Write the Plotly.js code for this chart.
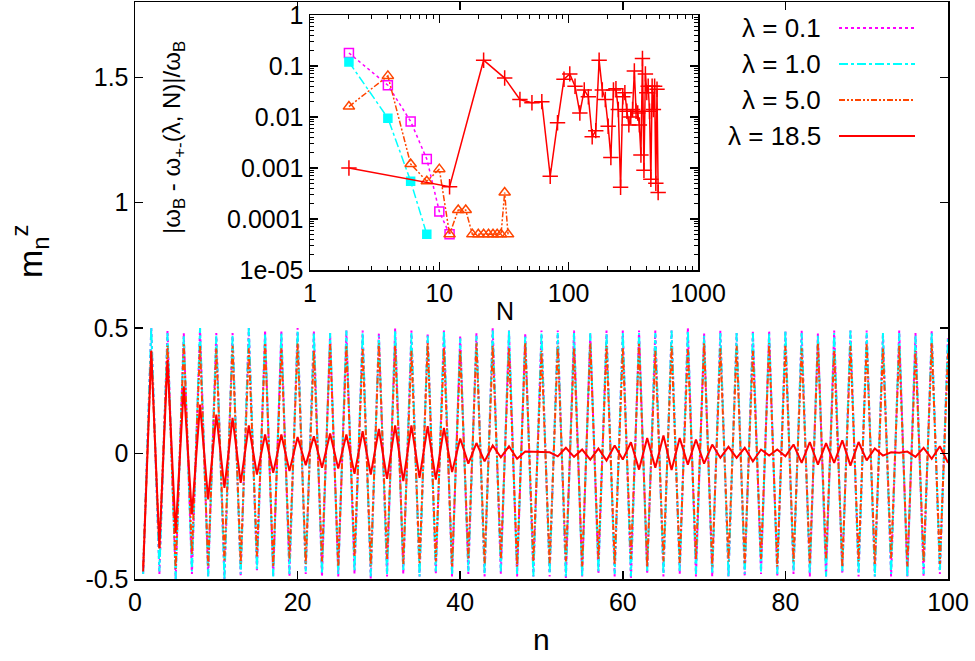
<!DOCTYPE html>
<html>
<head>
<meta charset="utf-8">
<script src="https://cdn.plot.ly/plotly-3.0.1.min.js"></script>
<style>html,body{margin:0;padding:0;background:#fff;}#chart{width:975px;height:661px;}</style>
</head>
<body>
<div id="chart"></div>
<script>
// ---- main panel: m_n^z versus site n ----
var siteN = [];
for (var i = 1; i <= 100; i++) siteN.push(i);

var mz_lam01 = [-0.48,0.50,-0.48,0.49,-0.50,0.48,-0.48,0.50,-0.49,0.48,
-0.50,0.48,-0.49,0.50,-0.47,0.49,-0.49,0.49,-0.49,0.50,
-0.48,0.49,-0.49,0.48,-0.49,0.49,-0.48,0.49,-0.50,0.48,
-0.49,0.50,-0.48,0.49,-0.49,0.48,-0.48,0.49,-0.49,0.47,
-0.48,0.48,-0.49,0.50,-0.48,0.49,-0.49,0.48,-0.49,0.49,
-0.49,0.49,-0.50,0.49,-0.49,0.48,-0.48,0.49,-0.49,0.49,
-0.50,0.49,-0.48,0.49,-0.49,0.49,-0.48,0.50,-0.49,0.48,
-0.49,0.49,-0.49,0.48,-0.49,0.49,-0.48,0.49,-0.49,0.49,
-0.48,0.49,-0.49,0.48,-0.49,0.49,-0.48,0.49,-0.49,0.49,
-0.49,0.48,-0.49,0.49,-0.49,0.48,-0.49,0.49,-0.48,0.47];

var mz_lam1 = [-0.48,0.50,-0.47,0.48,-0.50,0.47,-0.47,0.50,-0.49,0.47,
-0.50,0.47,-0.48,0.50,-0.46,0.48,-0.49,0.48,-0.48,0.49,
-0.47,0.48,-0.48,0.48,-0.48,0.49,-0.47,0.48,-0.49,0.47,
-0.48,0.49,-0.47,0.48,-0.49,0.47,-0.47,0.49,-0.48,0.46,
-0.47,0.47,-0.48,0.49,-0.47,0.49,-0.48,0.47,-0.49,0.48,
-0.48,0.48,-0.49,0.48,-0.49,0.48,-0.47,0.48,-0.48,0.48,
-0.49,0.48,-0.47,0.48,-0.48,0.49,-0.47,0.49,-0.48,0.47,
-0.48,0.48,-0.49,0.48,-0.48,0.48,-0.47,0.48,-0.48,0.49,
-0.47,0.48,-0.48,0.47,-0.49,0.48,-0.47,0.49,-0.48,0.48,
-0.49,0.48,-0.48,0.48,-0.49,0.47,-0.48,0.48,-0.47,0.46];

var mz_lam5 = [-0.45,0.41,-0.38,0.43,-0.46,0.44,-0.40,0.43,-0.45,0.42,
-0.43,0.43,-0.44,0.42,-0.41,0.44,-0.45,0.42,-0.42,0.44,
-0.44,0.41,-0.43,0.44,-0.45,0.43,-0.41,0.42,-0.45,0.44,
-0.42,0.43,-0.44,0.41,-0.44,0.44,-0.43,0.42,-0.45,0.41,
-0.42,0.44,-0.44,0.43,-0.42,0.42,-0.45,0.44,-0.43,0.41,
-0.44,0.43,-0.43,0.42,-0.45,0.44,-0.42,0.43,-0.44,0.42,
-0.42,0.44,-0.45,0.41,-0.43,0.43,-0.44,0.42,-0.42,0.44,
-0.45,0.42,-0.43,0.43,-0.44,0.41,-0.42,0.44,-0.45,0.43,
-0.43,0.42,-0.44,0.44,-0.42,0.41,-0.45,0.43,-0.43,0.44,
-0.44,0.42,-0.42,0.43,-0.45,0.41,-0.43,0.44,-0.44,0.40];

var mz_lam185 = [-0.47,0.41,-0.376,0.374,-0.316,0.268,-0.243,0.195,-0.183,0.155,
-0.137,0.142,-0.117,0.112,-0.084,0.076,-0.077,0.076,-0.070,0.066,
-0.046,0.069,-0.057,0.080,-0.060,0.076,-0.081,0.089,-0.084,0.098,
-0.101,0.112,-0.110,0.112,-0.097,0.109,-0.104,0.102,-0.074,0.060,
-0.040,0.042,-0.031,0.032,-0.015,0.029,-0.021,0.008,0.007,0.006,
0.005,-0.011,0.023,-0.013,0.016,-0.024,0.020,-0.028,0.032,-0.024,
0.045,-0.064,0.062,-0.057,0.072,-0.066,0.062,-0.044,0.056,-0.040,
0.036,-0.017,0.027,-0.017,0.023,-0.031,0.016,-0.008,0.016,-0.011,
0.036,-0.037,0.046,-0.044,0.042,-0.037,0.053,-0.048,0.046,-0.027,
0.020,-0.008,0.005,0.003,0.008,-0.013,0.023,-0.021,0.029,-0.037];

// ---- inset: relative error vs chain length N ----
var err_N_lam01 = [2,4,6,8,10,12];
var err_lam01 = [0.18,0.042,0.0082,0.0015,0.00014,0.00005];
var err_N_lam1 = [2,4,6,8];
var err_lam1 = [0.12,0.0095,0.00055,0.00005];
var err_N_lam5 = [2,4,6,8,10,12,14,16,18,20,22,24,26,28,30,32,34];
var err_lam5 = [0.016,0.064,0.0012,0.00055,0.00095,0.00005,0.00015,0.00015,0.00005,0.00005,0.00005,0.00005,0.00005,0.00005,0.00005,0.00033,0.00005];
var err_N_lam185 = [2,12,22,32,42,52,62,72,82,92,102,112,122,132,142,152,162,172,182,192,202,212,222,232,242,252,262,272,282,292,302,312,322,332,342,352,362,372,382,392,402,412,422,432,442,452,462,472,482,492];
var err_lam185 = [0.001,0.00043,0.13,0.058,0.022,0.019,0.02,0.00069,0.0077,0.055,
0.07,0.04,0.012,0.034,0.025,0.0041,0.0054,0.13,0.034,0.022,
0.0066,0.0016,0.034,0.036,0.014,0.00042,0.025,0.03,0.013,0.007,
0.01,0.014,0.08,0.013,0.012,0.007,0.0018,0.14,0.0009,0.07,
0.03,0.04,0.013,0.0006,0.04,0.014,0.04,0.0005,0.035,0.00033];

var seriesNames = ['\u03bb = 0.1','\u03bb = 1.0','\u03bb = 5.0','\u03bb = 18.5'];
var seriesColors = ['#ff00ff','#00ffff','#ff4500','#ff0000'];
var seriesDash = ['dot','dashdot','6px,2px,2px,2px,2px,2px','solid'];

var FONT = 'Liberation Sans, Arial, Helvetica, sans-serif';

var mainY = [mz_lam01, mz_lam1, mz_lam5, mz_lam185];
var traces = [];
for (var k = 0; k < 4; k++) {
  traces.push({
    x: siteN, y: mainY[k], type: 'scatter', mode: 'lines', name: seriesNames[k],
    xaxis: 'x', yaxis: 'y', showlegend: false,
    line: {color: seriesColors[k], width: 2, dash: seriesDash[k]}
  });
}
var insetX = [err_N_lam01, err_N_lam1, err_N_lam5, err_N_lam185];
var insetY = [err_lam01, err_lam1, err_lam5, err_lam185];
var insetSym = ['square-open','square','triangle-up-open','cross-thin-open'];
var insetSize = [9,8,10,11];
for (var k = 0; k < 4; k++) {
  traces.push({
    x: insetX[k], y: insetY[k], type: 'scatter', mode: 'lines+markers', name: seriesNames[k],
    xaxis: 'x2', yaxis: 'y2', showlegend: false,
    line: {color: seriesColors[k], width: 1.5, dash: seriesDash[k]},
    marker: {symbol: insetSym[k], size: insetSize[k], color: seriesColors[k],
             line: {color: seriesColors[k], width: 1.5}}
  });
}

// minor log ticks
var minorVals = [];
for (var e = -5; e <= 3; e++) for (var m = 2; m <= 9; m++) minorVals.push(m * Math.pow(10, e));

var L = 135, R = 948, T = 2, B = 579;
function px(x){ return (x - L) / (R - L); }
function py(y){ return (B - y) / (B - T); }

var annotations = [
  {text: 'm<sub>n</sub><sup>z</sup>', xref: 'paper', yref: 'paper', x: px(30), y: py(252),
   xanchor: 'center', yanchor: 'middle',
   showarrow: false, textangle: -90, font: {family: FONT, size: 34, color: '#000'}},
  {text: 'n', xref: 'paper', yref: 'paper', x: px(541), y: py(639),
   xanchor: 'center', yanchor: 'middle',
   showarrow: false, font: {family: FONT, size: 30, color: '#000'}},
  {text: '|\u03c9<sub>B</sub> - \u03c9<sub>+-</sub>(\u03bb, N)|/\u03c9<sub>B</sub>', xref: 'paper', yref: 'paper',
   x: px(173), y: py(138), xanchor: 'center', yanchor: 'middle',
   showarrow: false, textangle: -90, font: {family: FONT, size: 24, color: '#000'}},
  {text: 'N', xref: 'paper', yref: 'paper', x: px(505), y: py(311),
   xanchor: 'center', yanchor: 'middle',
   showarrow: false, font: {family: FONT, size: 25, color: '#000'}}
];
var shapes = [];
var legRows = [28, 64, 100, 136];
for (var k = 0; k < 4; k++) {
  annotations.push({text: seriesNames[k], xref: 'paper', yref: 'paper', x: px(823), y: py(legRows[k]),
    xanchor: 'right', yanchor: 'middle', showarrow: false, font: {family: FONT, size: 26, color: '#000'}});
  shapes.push({type: 'line', xref: 'paper', yref: 'paper', x0: px(839), x1: px(915),
    y0: py(legRows[k]), y1: py(legRows[k]),
    line: {color: seriesColors[k], width: 2, dash: seriesDash[k]}});
}

var axisCommon = {showgrid: false, zeroline: false, showline: true, linecolor: '#000', linewidth: 1.5,
  mirror: 'ticks', ticks: 'inside', ticklen: 8, tickwidth: 1.5, tickcolor: '#000',
  tickfont: {family: FONT, size: 25, color: '#000'}};

var layout = {
  width: 975, height: 661,
  margin: {l: L, r: 975 - R, t: T, b: 661 - B},
  paper_bgcolor: '#fff', plot_bgcolor: '#fff',
  showlegend: false,
  xaxis: Object.assign({}, axisCommon, {range: [0, 100], tickmode: 'array',
    tickvals: [0,20,40,60,80,100], ticktext: ['0','20','40','60','80','100']}),
  yaxis: Object.assign({}, axisCommon, {range: [-0.5, 1.8], tickmode: 'array',
    tickvals: [-0.5,0,0.5,1,1.5], ticktext: ['-0.5','0','0.5','1','1.5']}),
  xaxis2: Object.assign({}, axisCommon, {type: 'log', range: [0, 3], anchor: 'y2',
    domain: [px(310), px(698)], tickmode: 'array', tickvals: [1,10,100,1000], ticktext: ['1','10','100','1000'],
    minor: {tickmode: 'array', tickvals: minorVals, ticks: 'inside', ticklen: 4, tickcolor: '#000', tickwidth: 1}}),
  yaxis2: Object.assign({}, axisCommon, {type: 'log', range: [-5, 0], anchor: 'x2',
    domain: [py(270), py(15)], tickmode: 'array',
    tickvals: [1e-5,1e-4,1e-3,1e-2,1e-1,1], ticktext: ['1e-05','0.0001','0.001','0.01','0.1','1'],
    minor: {tickmode: 'array', tickvals: minorVals, ticks: 'inside', ticklen: 4, tickcolor: '#000', tickwidth: 1}}),
  annotations: annotations,
  shapes: shapes
};

Plotly.newPlot('chart', traces, layout, {displayModeBar: false, staticPlot: true});
</script>
</body>
</html>
